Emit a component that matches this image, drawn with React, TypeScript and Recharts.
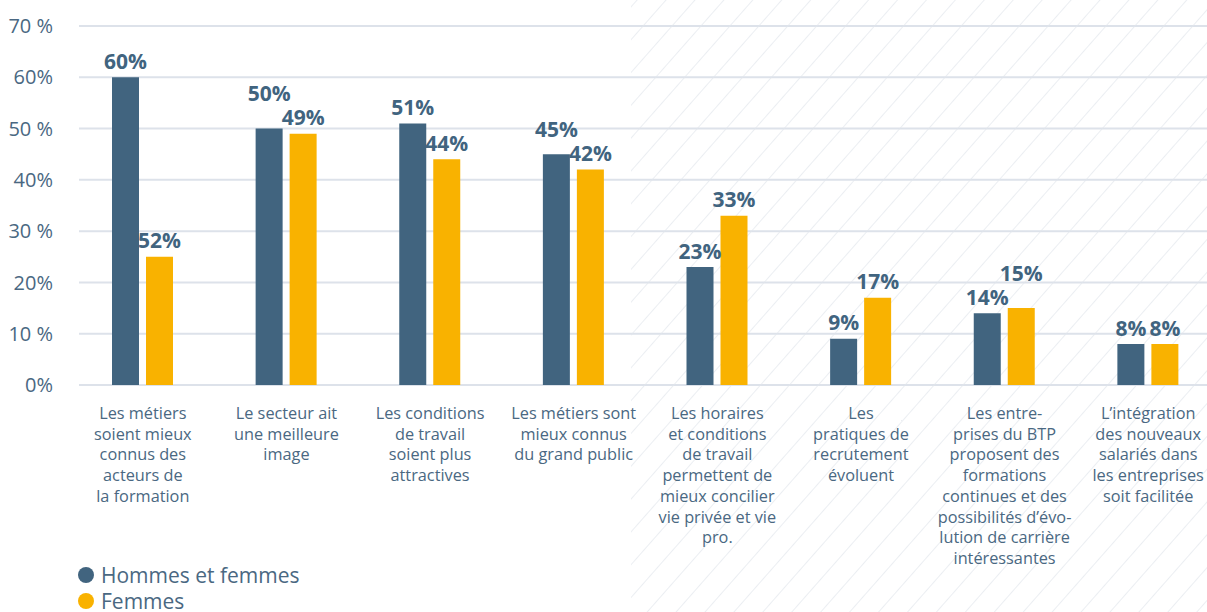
import React from "react";
import { BarChart, Bar, XAxis, YAxis, CartesianGrid, Legend, LabelList, Customized } from "recharts";

const categories = [
  "Les métiers\nsoient mieux\nconnus des\nacteurs de\nla formation",
  "Le secteur ait\nune meilleure\nimage",
  "Les conditions\nde travail\nsoient plus\nattractives",
  "Les métiers sont\nmieux connus\ndu grand public",
  "Les horaires\net conditions\nde travail\npermettent de\nmieux concilier\nvie privée et vie\npro.",
  "Les\npratiques de\nrecrutement\névoluent",
  "Les entre-\nprises du BTP\nproposent des\nformations\ncontinues et des\npossibilités d’évo-\nlution de carrière\nintéressantes",
  "L’intégration\ndes nouveaux\nsalariés dans\nles entreprises\nsoit facilitée",
];
const hommesEtFemmes = [60, 50, 51, 45, 23, 9, 14, 8];
const femmes = [25, 49, 44, 42, 33, 17, 15, 8];
const hommesEtFemmesLabels = ["60%", "50%", "51%", "45%", "23%", "9%", "14%", "8%"];
const femmesLabels = ["52%", "49%", "44%", "42%", "33%", "17%", "15%", "8%"];
const yTicks = [0, 10, 20, 30, 40, 50, 60, 70];
const yTickLabels = ["0%", "10 %", "20%", "30 %", "40%", "50 %", "60%", "70 %"];
const seriesNames = ["Hommes et femmes", "Femmes"];

const DARK = "#41647f";
const ORANGE = "#f9b200";
const TEXT = "#4a6882";
const FONT = "'Open Sans', sans-serif";

const data = categories.map((c, i) => ({
  category: c,
  total: hommesEtFemmes[i],
  femmes: femmes[i],
}));

const W = 1222;
const H = 612;

const Hatch = () => (
  <g>
    <defs>
      <pattern id="hatch" patternUnits="userSpaceOnUse" width="21.7" height="20" patternTransform="rotate(41.4)">
        <line x1="0" y1="0" x2="0" y2="20" stroke="#e1e5ec" strokeWidth="1.3" />
      </pattern>
    </defs>
    <rect x={631} y={0} width={W - 631} height={H} fill="url(#hatch)" />
  </g>
);

const estWidth = (s: string) => s.length * 14;

const makeLabel = (which: "total" | "femmes") => (p: any) => {
  const { x, y, width, height, index } = p;
  const mine = which === "total" ? hommesEtFemmes[index] : femmes[index];
  const other = which === "total" ? femmes[index] : hommesEtFemmes[index];
  const text = which === "total" ? hommesEtFemmesLabels[index] : femmesLabels[index];
  const otherText = which === "total" ? femmesLabels[index] : hommesEtFemmesLabels[index];
  const bottom = y + height;
  const ppu = mine ? height / mine : 0;
  const otherTop = bottom - other * ppu;
  let cy = y - 16;
  const otherCy = otherTop - 16;
  const overlapX = (estWidth(text) + estWidth(otherText)) / 2 > 34;
  if (overlapX && y < otherTop && Math.abs(cy - otherCy) < 20) {
    cy = otherCy - 24;
  }
  return (
    <text
      x={x + width / 2}
      y={cy}
      dy="0.36em"
      textAnchor="middle"
      fill={DARK}
      fontFamily={FONT}
      fontWeight={700}
      fontSize={21}
    >
      {text}
    </text>
  );
};

const XTick = (p: any) => {
  const { x, y, payload } = p;
  const lines = String(payload.value).split("\n");
  return (
    <text x={x} y={y + 34} textAnchor="middle" fill={TEXT} fontFamily={FONT} fontSize={16.3}>
      {lines.map((l, i) => (
        <tspan key={i} x={x} dy={i === 0 ? 0 : 20.7}>
          {l}
        </tspan>
      ))}
    </text>
  );
};

const YTick = (p: any) => {
  const { x, y, payload } = p;
  const idx = yTicks.indexOf(payload.value);
  return (
    <text x={x} y={y} dy="0.36em" textAnchor="end" fill={TEXT} fontFamily={FONT} fontSize={20}>
      {yTickLabels[idx]}
    </text>
  );
};

const LegendContent = () => (
  <div style={{ paddingTop: 2, fontFamily: FONT, fontSize: 21, color: TEXT, height: 50 }}>
    {[DARK, ORANGE].map((c, i) => (
      <div key={i} style={{ display: "flex", alignItems: "center", height: 26, lineHeight: "26px" }}>
        <span
          style={{
            display: "inline-block",
            width: 16,
            height: 16,
            borderRadius: 8,
            background: c,
            marginRight: 7,
          }}
        />
        <span>{seriesNames[i]}</span>
      </div>
    ))}
  </div>
);

const gridLine = (p: any) => {
  const { x1, x2, y1, y2, key } = p;
  return <line key={key} x1={x1 + 8} x2={x2} y1={y1} y2={y2} stroke="#dde2ea" strokeWidth={2} />;
};

export default function App() {
  return (
    <div style={{ position: "absolute", left: 0, top: 0, width: 1207, height: 612, overflow: "hidden", background: "#fff" }}>
      <BarChart
        width={W}
        height={H}
        data={data}
        margin={{ top: 26, right: 2, bottom: 0, left: 0 }}
        barSize={27}
        barGap={7}
      >
        <Customized component={Hatch} />
        <CartesianGrid vertical={false} horizontal={gridLine} />
        <XAxis
          dataKey="category"
          interval={0}
          height={175}
          tickLine={false}
          axisLine={false}
          tickSize={0}
          tickMargin={0}
          tick={<XTick />}
        />
        <YAxis
          domain={[0, 70]}
          ticks={yTicks}
          width={71}
          tickLine={false}
          axisLine={false}
          tickMargin={12}
          tick={<YTick />}
          interval={0}
        />
        <Legend verticalAlign="bottom" align="left" content={<LegendContent />} wrapperStyle={{ left: 78, bottom: 0, width: 300, height: 52 }} />
        <Bar dataKey="total" name={seriesNames[0]} fill={DARK} isAnimationActive={false}>
          <LabelList dataKey="total" content={makeLabel("total")} />
        </Bar>
        <Bar dataKey="femmes" name={seriesNames[1]} fill={ORANGE} isAnimationActive={false}>
          <LabelList dataKey="femmes" content={makeLabel("femmes")} />
        </Bar>
      </BarChart>
    </div>
  );
}
